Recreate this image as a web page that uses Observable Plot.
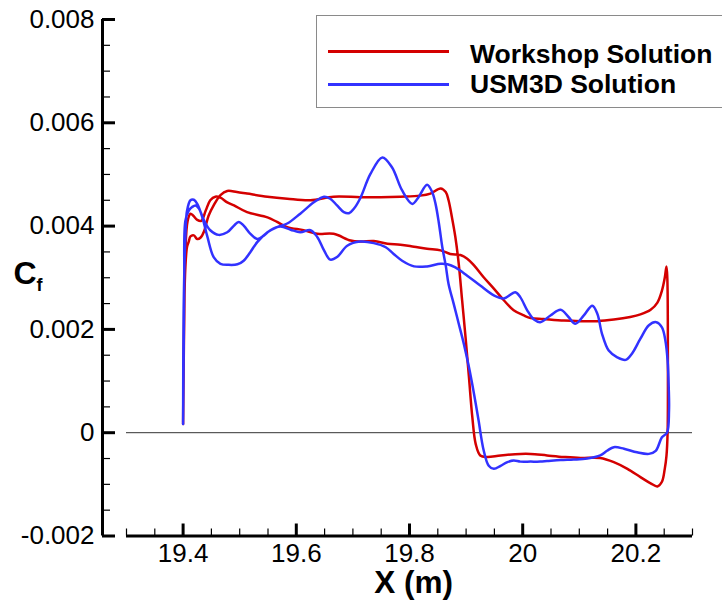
<!DOCTYPE html>
<html>
<head>
<meta charset="utf-8">
<script src="https://cdn.jsdelivr.net/npm/d3@7"></script>
<script src="https://cdn.jsdelivr.net/npm/@observablehq/plot@0.6"></script>
<style>
  body { margin: 0; background: #fff; }
  #chart { position: relative; width: 722px; height: 600px; overflow: hidden;
           font-family: "Liberation Sans", Arial, Helvetica, sans-serif; }
  #chart svg { position: absolute; left: 0; top: 0; }
  .legend-box { position: absolute; left: 316px; top: 15px; width: 430px; height: 93px;
                box-sizing: border-box; border: 1.5px solid #8a8a8a; background: #fff; }
  .legend-line { position: absolute; left: 328px; width: 121px; height: 3px; }
  .legend-text { position: absolute; left: 470px; font-size: 26.5px; font-weight: bold;
                 line-height: 26px; white-space: nowrap; color: #000; }
</style>
</head>
<body>
<div id="chart"></div>
<script>
// Skin-friction coefficient along the surface, X in metres.
// Each series is one closed path: leading edge -> one surface -> trailing edge -> other surface -> leading edge.
const workshop = [
  [19.400, 0.00017], [19.402, 0.0024], [19.404, 0.0032], [19.407, 0.0036], [19.410, 0.0037],
  [19.413, 0.0038], [19.419, 0.00382], [19.425, 0.00375], [19.431, 0.00378], [19.437, 0.0039],
  [19.445, 0.0042], [19.454, 0.0044], [19.466, 0.0046], [19.478, 0.00468], [19.495, 0.00466],
  [19.513, 0.00463], [19.549, 0.00457], [19.584, 0.00453], [19.625, 0.0045], [19.666, 0.00457],
  [19.713, 0.00456], [19.749, 0.00456], [19.784, 0.00457], [19.819, 0.00459], [19.837, 0.00463],
  [19.855, 0.00473], [19.864, 0.00466], [19.869, 0.0045], [19.875, 0.00417], [19.881, 0.00379],
  [19.887, 0.00327], [19.893, 0.00256], [19.899, 0.00185], [19.905, 0.00108], [19.911, 0.0003],
  [19.917, -0.00022], [19.925, -0.00044], [19.937, -0.00047], [19.961, -0.00044], [19.996, -0.00041],
  [20.014, -0.00041], [20.043, -0.00044], [20.073, -0.00047], [20.102, -0.00049], [20.137, -0.00049],
  [20.161, -0.00057], [20.185, -0.0007], [20.208, -0.00086], [20.226, -0.00098], [20.238, -0.00104],
  [20.246, -0.00095], [20.251, -0.0007], [20.254, -0.00045], [20.256, 0.0], [20.2565, 0.0015],
  [20.2555, 0.003], [20.254, 0.00322], [20.251, 0.003], [20.246, 0.00275], [20.238, 0.00252],
  [20.226, 0.00238], [20.208, 0.00229], [20.190, 0.00224], [20.161, 0.00219], [20.132, 0.00216],
  [20.102, 0.00216], [20.073, 0.00217], [20.037, 0.0022], [20.014, 0.00222], [20.002, 0.00227],
  [19.984, 0.00237], [19.967, 0.00256], [19.949, 0.00279], [19.931, 0.00301], [19.914, 0.00324],
  [19.902, 0.00337], [19.890, 0.00344], [19.872, 0.00346], [19.855, 0.00353], [19.831, 0.00356],
  [19.808, 0.0036], [19.784, 0.00364], [19.761, 0.00366], [19.737, 0.00371], [19.713, 0.0037],
  [19.696, 0.00372], [19.666, 0.00385], [19.637, 0.00385], [19.613, 0.00392], [19.584, 0.00398],
  [19.566, 0.00408], [19.549, 0.00417], [19.513, 0.00427], [19.490, 0.0044], [19.478, 0.00446],
  [19.466, 0.00455], [19.457, 0.00457], [19.448, 0.0045], [19.440, 0.0043], [19.432, 0.0041],
  [19.425, 0.00412], [19.418, 0.0042], [19.413, 0.00424], [19.408, 0.0041], [19.404, 0.0035],
  [19.402, 0.0022], [19.4005, 0.0008], [19.400, 0.0002]
];

const usm3d = [
  [19.400, 0.00017], [19.401, 0.0024], [19.404, 0.0038], [19.407, 0.0043], [19.413, 0.0045],
  [19.419, 0.00451], [19.425, 0.00443], [19.434, 0.00417], [19.443, 0.00379], [19.454, 0.0034],
  [19.466, 0.00327], [19.480, 0.00325], [19.496, 0.00326], [19.507, 0.00333], [19.519, 0.0035],
  [19.531, 0.00369], [19.549, 0.00388], [19.566, 0.00398], [19.584, 0.00405], [19.607, 0.00424],
  [19.631, 0.00446], [19.649, 0.00457], [19.660, 0.00453], [19.672, 0.0044], [19.684, 0.00427],
  [19.693, 0.00425], [19.702, 0.00434], [19.713, 0.00454], [19.731, 0.00501], [19.752, 0.00533],
  [19.769, 0.00514], [19.787, 0.00469], [19.805, 0.00443], [19.816, 0.00456], [19.831, 0.0048],
  [19.840, 0.00466], [19.846, 0.00443], [19.852, 0.00405], [19.858, 0.00359], [19.864, 0.00324],
  [19.869, 0.00288], [19.878, 0.0025], [19.887, 0.00211], [19.896, 0.00172], [19.905, 0.00127],
  [19.914, 0.00075], [19.922, 0.00024], [19.931, -0.00034], [19.940, -0.00064], [19.949, -0.0007],
  [19.961, -0.00064], [19.973, -0.00057], [19.984, -0.00054], [19.996, -0.00056], [20.014, -0.00056],
  [20.031, -0.00056], [20.043, -0.00055], [20.067, -0.00053], [20.090, -0.00052], [20.114, -0.0005],
  [20.137, -0.00044], [20.149, -0.00035], [20.161, -0.00028], [20.179, -0.00031], [20.202, -0.00038],
  [20.223, -0.00041], [20.235, -0.00035], [20.246, -0.00009], [20.255, 0.0], [20.2585, 0.00043],
  [20.258, 0.00088], [20.256, 0.0014], [20.252, 0.00179], [20.246, 0.00204], [20.236, 0.00214],
  [20.223, 0.00208], [20.208, 0.00182], [20.193, 0.00153], [20.182, 0.00141], [20.167, 0.00146],
  [20.152, 0.00159], [20.140, 0.00192], [20.132, 0.0023], [20.123, 0.00246], [20.108, 0.00227],
  [20.093, 0.00211], [20.081, 0.00224], [20.067, 0.00238], [20.049, 0.00227], [20.031, 0.00214],
  [20.020, 0.00219], [20.008, 0.00237], [19.996, 0.00262], [19.987, 0.00272], [19.967, 0.0026],
  [19.949, 0.00266], [19.925, 0.00285], [19.902, 0.00304], [19.881, 0.0032], [19.867, 0.00326],
  [19.855, 0.00327], [19.831, 0.00322], [19.808, 0.00322], [19.787, 0.00333], [19.772, 0.00346],
  [19.758, 0.00359], [19.737, 0.00367], [19.713, 0.0037], [19.690, 0.00362], [19.672, 0.0034],
  [19.660, 0.00335], [19.649, 0.00353], [19.637, 0.00379], [19.625, 0.00392], [19.607, 0.00388],
  [19.590, 0.00393], [19.572, 0.00399], [19.554, 0.00392], [19.543, 0.00382], [19.531, 0.00375],
  [19.519, 0.00385], [19.507, 0.00401], [19.498, 0.00408], [19.490, 0.00401], [19.478, 0.00388],
  [19.463, 0.00383], [19.448, 0.00392], [19.437, 0.00411], [19.428, 0.00434], [19.422, 0.0044],
  [19.416, 0.00437], [19.410, 0.0043], [19.404, 0.0041], [19.402, 0.003], [19.401, 0.0015],
  [19.400, 0.0002]
];

const seriesNames = ["Workshop Solution", "USM3D Solution"];
const seriesColors = ["#d40000", "#3232ff"];

const xDomain = [19.3, 20.3];
const yDomain = [-0.002, 0.008];
const xMajor = [19.4, 19.6, 19.8, 20, 20.2];
const xMinor = [19.3, 19.35, 19.45, 19.5, 19.55, 19.65, 19.7, 19.75, 19.85, 19.9, 19.95,
                20.05, 20.1, 20.15, 20.25, 20.3];
const yMajor = [-0.002, 0, 0.002, 0.004, 0.006, 0.008];
const yMinor = [-0.0015, -0.001, -0.0005, 0.0005, 0.001, 0.0015, 0.0025, 0.003, 0.0035,
                0.0045, 0.005, 0.0055, 0.0065, 0.007, 0.0075];
const xTitle = "X (m)";
const yTitle = ["C", "f"];

// layout
const W = 722, H = 600;
const mLeft = 126, mRight = 30, mTop = 19, mBottom = 64.5;
const frameW = W - mLeft - mRight;
const frameH = H - mTop - mBottom;
const yAxisGap = 24;               // y axis line sits this far left of the frame
const majorLen = 13, minorLen = 8; // y tick lengths
const xMajorLen = 12, xMinorLen = 7;

const font = "'Liberation Sans', Arial, Helvetica, sans-serif";
const fmtY = d => (d === 0 ? "0" : d.toFixed(3));
const fmtX = d => String(d);

const chart = Plot.plot({
  width: W,
  height: H,
  marginLeft: mLeft,
  marginRight: mRight,
  marginTop: mTop,
  marginBottom: mBottom,
  x: {domain: xDomain},
  y: {domain: yDomain},
  style: {fontFamily: font, background: "transparent", color: "#000", overflow: "visible"},
  marks: [
    // zero reference line across the frame
    Plot.ruleY([0], {stroke: "#333", strokeWidth: 1}),

    // detached y axis line, set off to the left of the frame
    Plot.ruleX([xDomain[0]], {y1: yDomain[0], y2: yDomain[1], dx: -yAxisGap, stroke: "#000", strokeWidth: 3}),
    // x axis line along the bottom of the frame
    Plot.ruleY([yDomain[0]], {x1: xDomain[0], x2: xDomain[1], stroke: "#000", strokeWidth: 3}),

    // y ticks point inward (rightward) from the detached axis line
    Plot.tickY(yMinor, {y: d => d, dx: -yAxisGap, insetRight: frameW - minorLen, stroke: "#000", strokeWidth: 1.2}),
    Plot.tickY(yMajor, {y: d => d, dx: -yAxisGap, insetRight: frameW - majorLen, stroke: "#000", strokeWidth: 3}),
    Plot.axisY(yMajor, {anchor: "left", tickSize: 0, dx: -yAxisGap, tickPadding: 8,
      tickFormat: fmtY, fontSize: 26, fontFamily: font, label: null}),

    // x ticks point upward from the axis line
    Plot.tickX(xMinor, {x: d => d, insetTop: frameH - xMinorLen, stroke: "#000", strokeWidth: 1.2}),
    Plot.tickX(xMajor, {x: d => d, insetTop: frameH - xMajorLen, stroke: "#000", strokeWidth: 3}),
    Plot.axisX(xMajor, {anchor: "bottom", tickSize: 0, tickPadding: 8,
      tickFormat: fmtX, fontSize: 26, fontFamily: font, label: null}),

    // axis titles
    Plot.text([xTitle], {text: d => d, frameAnchor: "bottom", dx: 4, dy: 57,
      fontSize: 31.5, fontWeight: "bold", fontFamily: font}),
    Plot.text([yTitle[0]], {text: d => d, frameAnchor: "left", textAnchor: "start", dx: -113, dy: -4,
      fontSize: 32, fontWeight: "bold", fontFamily: font}),
    Plot.text([yTitle[1]], {text: d => d, frameAnchor: "left", textAnchor: "start", dx: -90, dy: 7,
      fontSize: 18, fontWeight: "bold", fontFamily: font}),

    // the two Cf distributions
    Plot.line(workshop, {x: d => d[0], y: d => d[1], stroke: seriesColors[0], strokeWidth: 2.5,
      curve: "catmull-rom", strokeLinejoin: "round"}),
    Plot.line(usm3d, {x: d => d[0], y: d => d[1], stroke: seriesColors[1], strokeWidth: 2.5,
      curve: "catmull-rom", strokeLinejoin: "round"})
  ]
});

const root = document.getElementById("chart");
root.appendChild(chart);

// legend box in the upper right of the plot area
const box = document.createElement("div");
box.className = "legend-box";
root.appendChild(box);
const lineTops = [50.2, 82.5];
const textTops = [41, 70.5];
seriesNames.forEach((name, i) => {
  const ln = document.createElement("div");
  ln.className = "legend-line";
  ln.style.top = lineTops[i] + "px";
  ln.style.background = seriesColors[i];
  root.appendChild(ln);
  const tx = document.createElement("div");
  tx.className = "legend-text";
  tx.style.top = textTops[i] + "px";
  tx.textContent = name;
  root.appendChild(tx);
});
</script>
</body>
</html>
